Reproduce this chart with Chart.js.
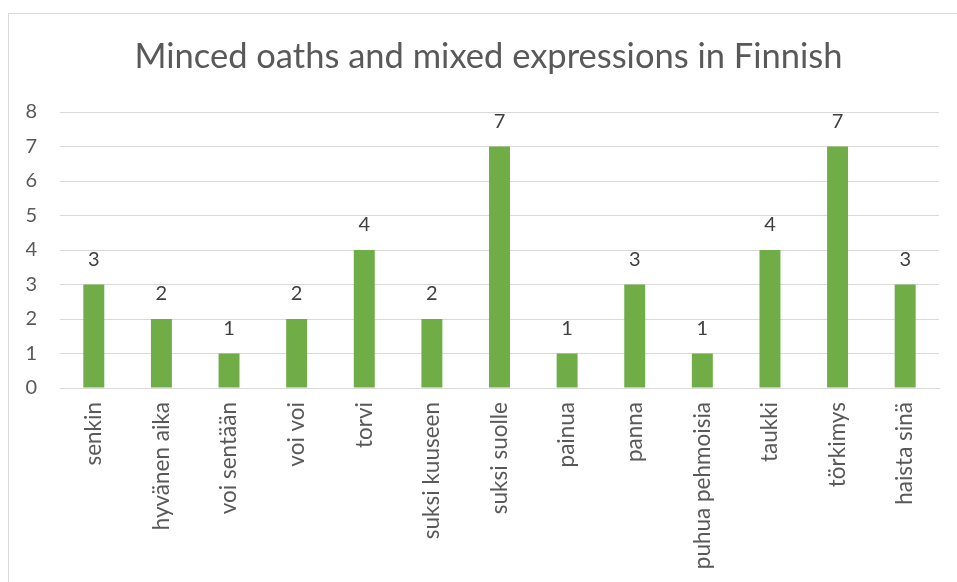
<!DOCTYPE html>
<html>
<head>
<meta charset="utf-8">
<script src="https://cdn.jsdelivr.net/npm/chart.js@4"></script>
<style>
  html, body { margin: 0; padding: 0; background: #fff; }
  #wrap { position: relative; width: 957px; height: 582px; overflow: hidden; }
  #frame { position: absolute; left: 8px; top: 13px; width: 1000px; height: 700px; border: 1px solid #d9d9d9; box-sizing: border-box; }
  canvas { position: absolute; left: 0; top: 0; }
</style>
</head>
<body>
<div id="wrap">
  <div id="frame"></div>
  <canvas id="c" width="957" height="582"></canvas>
</div>
<script>
const titleText = "Minced oaths and mixed expressions in Finnish";
const categories = ["senkin", "hyvänen aika", "voi sentään", "voi voi", "torvi", "suksi kuuseen", "suksi suolle", "painua", "panna", "puhua pehmoisia", "taukki", "törkimys", "haista sinä"];
const counts = [3, 2, 1, 2, 4, 2, 7, 1, 3, 1, 4, 7, 3];
const yTicks = [0, 1, 2, 3, 4, 5, 6, 7, 8];

const FONT = "Lato, 'Open Sans', sans-serif";

const dataLabels = {
  id: 'dataLabels',
  afterDatasetsDraw(chart) {
    const ctx = chart.ctx;
    const meta = chart.getDatasetMeta(0);
    ctx.save();
    ctx.font = "20px " + FONT;
    ctx.fillStyle = "#404040";
    ctx.textAlign = "center";
    ctx.textBaseline = "middle";
    meta.data.forEach((bar, i) => {
      ctx.fillText(String(counts[i]), bar.x, bar.y - 25);
    });
    ctx.restore();
  }
};

// centre the title over the framed area, as in the original
const titleShift = {
  id: 'titleShift',
  afterLayout(chart) {
    const t = chart.titleBlock;
    if (t) { t.left += 19; t.right += 19; }
  }
};

new Chart(document.getElementById('c'), {
  type: 'bar',
  data: {
    labels: categories,
    datasets: [{
      data: counts,
      backgroundColor: '#70AD47',
      borderWidth: 0,
      categoryPercentage: 1,
      barPercentage: 0.31
    }]
  },
  plugins: [dataLabels, titleShift],
  options: {
    responsive: false,
    animation: false,
    devicePixelRatio: 1,
    layout: { padding: { left: 0, right: 18, top: 0, bottom: 0 } },
    plugins: {
      legend: { display: false },
      tooltip: { enabled: false },
      title: {
        display: true,
        text: titleText,
        color: '#595959',
        font: { family: FONT, size: 34.5, weight: 'normal', lineHeight: 1.2 },
        padding: { top: 36, bottom: 34.6 }
      }
    },
    scales: {
      x: {
        grid: { display: false, drawTicks: false },
        border: { display: true, color: '#d9d9d9', width: 1 },
        ticks: {
          color: '#595959',
          font: { family: FONT, size: 22.5 },
          minRotation: 90,
          maxRotation: 90,
          autoSkip: false,
          padding: 14
        },
        afterFit(scale) { scale.height = 194; }
      },
      y: {
        min: 0,
        max: 8,
        afterBuildTicks(scale) { scale.ticks = yTicks.map(v => ({ value: v })); },
        grid: { color: '#d9d9d9', lineWidth: 1, drawTicks: false },
        border: { display: false },
        ticks: {
          color: '#595959',
          font: { family: FONT, size: 20 },
          padding: 23
        },
        afterFit(scale) { scale.width = 60; }
      }
    }
  }
});
</script>
</body>
</html>
